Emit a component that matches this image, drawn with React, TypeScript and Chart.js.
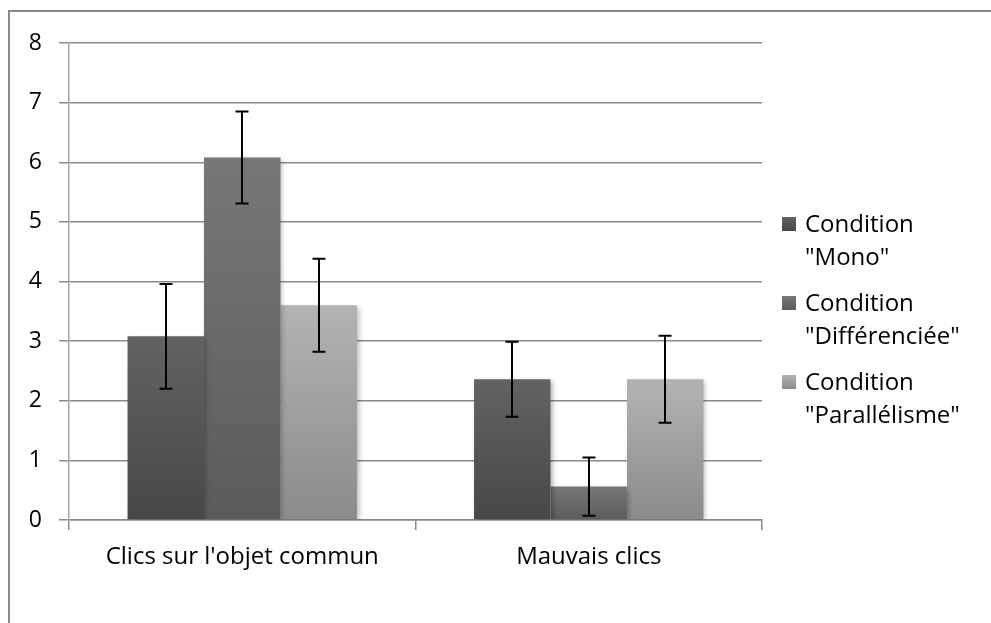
import React, { useEffect, useRef } from "react";
import { Chart, registerables } from "chart.js";

Chart.register(...registerables);

const categories = ["Clics sur l'objet commun", "Mauvais clics"];
const seriesLabels = [
  ["Condition", "\"Mono\""],
  ["Condition", "\"Différenciée\""],
  ["Condition", "\"Parallélisme\""],
];
const monoValues = [3.08, 2.36];
const diffValues = [6.08, 0.56];
const paraValues = [3.6, 2.36];
const monoErrors = [0.88, 0.63];
const diffErrors = [0.77, 0.49];
const paraErrors = [0.78, 0.73];
const yTicks = [0, 1, 2, 3, 4, 5, 6, 7, 8];

const seriesTop = ["#636363", "#777777", "#b3b3b3"];
const seriesBottom = ["#474747", "#5b5b5b", "#8b8b8b"];
const seriesMid = ["#555555", "#6a6a6a", "#a3a3a3"];

const FONT = "'Open Sans', Lato, sans-serif";
const FSIZE = 23;
const LSIZE = 24;

function gradientFor(i: number) {
  return (ctx: any) => {
    const chart = ctx.chart;
    const ys = chart.scales?.y;
    if (!ys || ctx.parsed == null) return seriesMid[i];
    const top = ys.getPixelForValue(ctx.parsed.y);
    const bottom = ys.getPixelForValue(0);
    if (!isFinite(top) || !isFinite(bottom) || top === bottom) return seriesMid[i];
    const g = chart.ctx.createLinearGradient(0, top, 0, bottom);
    g.addColorStop(0, seriesTop[i]);
    g.addColorStop(1, seriesBottom[i]);
    return g;
  };
}

const errorsBySeries = [monoErrors, diffErrors, paraErrors];

const shadowPlugin = {
  id: "barShadow",
  beforeDatasetsDraw(chart: any) {
    const c = chart.ctx;
    c.save();
    c.shadowColor = "rgba(0,0,0,0.28)";
    c.shadowBlur = 5;
    c.shadowOffsetX = 2;
    c.shadowOffsetY = 2;
  },
  afterDatasetsDraw(chart: any) {
    chart.ctx.restore();
  },
};

const errorBarPlugin = {
  id: "errorBars",
  afterDatasetsDraw(chart: any) {
    const c = chart.ctx;
    const ys = chart.scales.y;
    c.save();
    c.strokeStyle = "#000000";
    c.lineWidth = 2;
    chart.data.datasets.forEach((ds: any, di: number) => {
      const meta = chart.getDatasetMeta(di);
      const errs = errorsBySeries[di];
      meta.data.forEach((bar: any, j: number) => {
        const v = ds.data[j];
        const e = errs[j];
        const x = Math.round(bar.x);
        const yT = ys.getPixelForValue(v + e);
        const yB = ys.getPixelForValue(v - e);
        c.beginPath();
        c.moveTo(x, yT);
        c.lineTo(x, yB);
        c.moveTo(x - 6.5, yT);
        c.lineTo(x + 6.5, yT);
        c.moveTo(x - 6.5, yB);
        c.lineTo(x + 6.5, yB);
        c.stroke();
      });
    });
    c.restore();
  },
};

const legendAndFramePlugin = {
  id: "customLegend",
  afterDraw(chart: any) {
    const c = chart.ctx;
    c.save();
    c.strokeStyle = "#8c8c8c";
    c.lineWidth = 2;
    c.beginPath();
    c.moveTo(9, 623);
    c.lineTo(9, 11);
    c.lineTo(991, 11);
    c.stroke();

    c.font = `${LSIZE}px ${FONT}`;
    c.textBaseline = "alphabetic";
    c.textAlign = "left";
    chart.data.datasets.forEach((ds: any, i: number) => {
      const top = 217 + i * 79;
      const g = c.createLinearGradient(0, top, 0, top + 14);
      g.addColorStop(0, seriesTop[i]);
      g.addColorStop(1, seriesBottom[i]);
      c.fillStyle = g;
      c.fillRect(782, top, 14, 14);
      c.fillStyle = "#000000";
      const lines: string[] = seriesLabels[i];
      lines.forEach((ln, k) => {
        c.fillText(ln, 805, top + 15 + k * 33);
      });
    });
    c.restore();
  },
};

export default function App() {
  const ref = useRef<HTMLCanvasElement | null>(null);
  useEffect(() => {
    if (!ref.current) return;
    const chart = new Chart(ref.current, {
      type: "bar",
      data: {
        labels: categories,
        datasets: [
          { label: seriesLabels[0].join(" "), data: monoValues, backgroundColor: gradientFor(0) },
          { label: seriesLabels[1].join(" "), data: diffValues, backgroundColor: gradientFor(1) },
          { label: seriesLabels[2].join(" "), data: paraValues, backgroundColor: gradientFor(2) },
        ],
      },
      options: {
        animation: false,
        responsive: false,
        devicePixelRatio: 1,
        layout: { padding: { top: 43, right: 229, left: 0, bottom: 0 } },
        datasets: { bar: { categoryPercentage: 0.662, barPercentage: 1 } },
        plugins: {
          legend: { display: false },
          tooltip: { enabled: false },
          title: { display: false },
        },
        scales: {
          x: {
            grid: {
              offset: true,
              drawOnChartArea: false,
              drawTicks: true,
              tickLength: 10,
              color: "#8a8a8a",
              lineWidth: 1.5,
            },
            border: { display: true, color: "#8a8a8a", width: 1.5 },
            ticks: {
              color: "#000000",
              font: { family: FONT, size: LSIZE },
              padding: 13,
              maxRotation: 0,
            },
            afterFit(scale: any) {
              scale.height = 103;
            },
          },
          y: {
            min: 0,
            max: 8,
            afterBuildTicks(scale: any) {
              scale.ticks = yTicks.map((v) => ({ value: v }));
            },
            grid: {
              color: "#8a8a8a",
              lineWidth: 1.5,
              drawTicks: true,
              tickLength: 10,
            },
            border: { display: true, color: "#a6a6a6", width: 1.5 },
            ticks: {
              color: "#000000",
              font: { family: FONT, size: FSIZE },
              padding: 17,
            },
            afterFit(scale: any) {
              scale.width = 69;
            },
          },
        },
      },
      plugins: [shadowPlugin, errorBarPlugin, legendAndFramePlugin],
    });
    return () => chart.destroy();
  }, []);
  return (
    <div style={{ position: "absolute", left: 0, top: 0, width: 991, height: 623, background: "#ffffff" }}>
      <canvas ref={ref} width={991} height={623} style={{ display: "block" }} />
    </div>
  );
}
